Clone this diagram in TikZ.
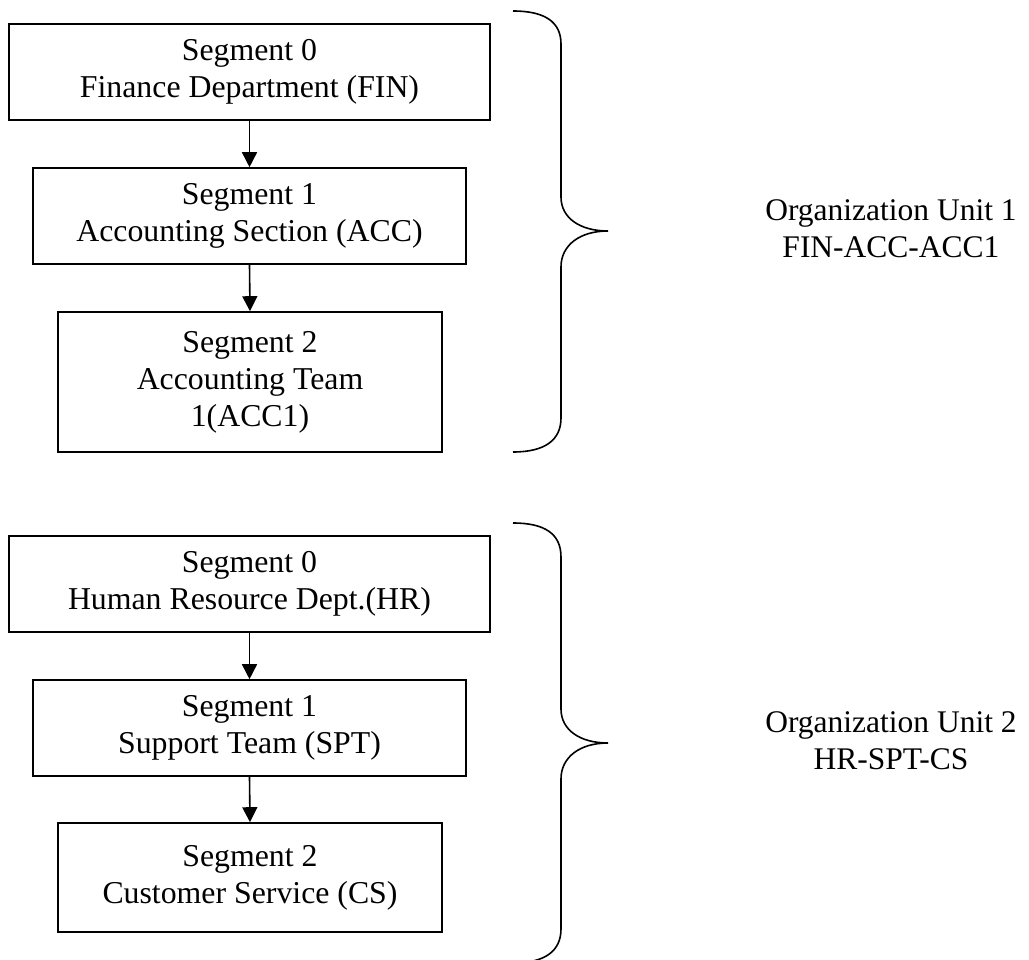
\documentclass[tikz,border=0pt]{standalone}
\usepackage{fontspec}
\setmainfont{Liberation Serif}
\usetikzlibrary{arrows.meta}
\begin{document}
\begin{tikzpicture}[x=1pt,y=-1pt,
  segbox/.style={draw, line width=1.6pt, rectangle, inner sep=0pt, align=center,
    font=\fontsize{31.8}{37}\selectfont},
  arr/.style={line width=1.6pt, -{Triangle[length=15pt,width=15pt]}},
  bracepath/.style={line width=1.6pt},
  unitlabel/.style={align=center, inner sep=0pt, font=\fontsize{31.5}{37}\selectfont}]
\useasboundingbox (0,0) rectangle (1029,960);
% group 1
\node[segbox, minimum width=481pt, minimum height=96pt] (b1) at (249.5,72) {Segment 0\\Finance Department (FIN)};
\node[segbox, minimum width=433pt, minimum height=96pt] (b2) at (249.5,216) {Segment 1\\Accounting Section (ACC)};
\node[segbox, minimum width=384pt, minimum height=140pt] (b3) at (250,382) {Segment 2\\Accounting Team\\1(ACC1)};
\draw[arr] (b1.south) -- (b2.north);
\draw[arr] (b2.south) -- (b3.north);
\draw[bracepath] (513,11) .. controls (545,11) and (561,22) .. (561,44) -- (561,197)
  .. controls (561,218) and (580,231) .. (608,231)
  .. controls (580,231) and (561,245) .. (561,267) -- (561,418)
  .. controls (561,440) and (545,452) .. (513,452);
\node[unitlabel] (u1) at (891,229) {Organization Unit 1\\FIN-ACC-ACC1};
% group 2
\node[segbox, minimum width=481pt, minimum height=96pt] (b4) at (249.5,584) {Segment 0\\Human Resource Dept.(HR)};
\node[segbox, minimum width=433pt, minimum height=96pt] (b5) at (249.5,728) {Segment 1\\Support Team (SPT)};
\node[segbox, minimum width=384pt, minimum height=109pt] (b6) at (250,877.5) {Segment 2\\Customer Service (CS)};
\draw[arr] (b4.south) -- (b5.north);
\draw[arr] (b5.south) -- (b6.north);
\draw[bracepath] (513,523) .. controls (545,523) and (561,534) .. (561,557) -- (561,709)
  .. controls (561,730) and (580,743) .. (608,743)
  .. controls (580,743) and (561,757) .. (561,779) -- (561,929)
  .. controls (561,951) and (545,963) .. (513,963);
\node[unitlabel] (u2) at (891,741) {Organization Unit 2\\HR-SPT-CS};
\end{tikzpicture}
\end{document}
